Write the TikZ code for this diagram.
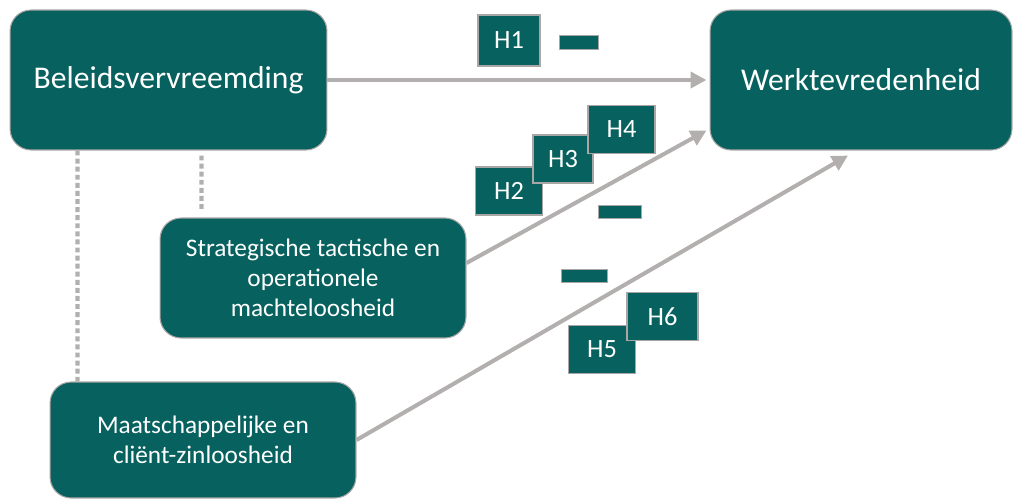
\documentclass[tikz,border=0pt]{standalone}
\usepackage{fontspec}
\setmainfont{Carlito}
\definecolor{mTeal}{HTML}{07615E}
\definecolor{mGrey}{HTML}{B3AFAF}
\definecolor{mEdge}{HTML}{A9A6A6}
\usetikzlibrary{arrows.meta,calc}

\begin{document}
\begin{tikzpicture}[x=0.02cm, y=-0.02cm,
  concept/.style={draw=mEdge, line width=0.6pt, fill=mTeal, text=white, align=center,
    rounded corners=12pt, inner sep=0pt},
  hyp/.style={draw=mEdge, line width=0.7pt, fill=mTeal, text=white, inner sep=0pt,
    font=\fontsize{15}{18}\selectfont, minimum width=1.34cm, minimum height=0.96cm},
  minus/.style={draw=mEdge, line width=0.3pt, fill=mTeal, inner sep=0pt, minimum height=0.27cm},
  link/.style={mGrey, line width=2.3pt, -{Triangle[length=9pt,width=9pt]}},
  dotline/.style={mGrey, line width=2.3pt, dash pattern=on 2.8pt off 1.8pt}]
\useasboundingbox (0,0) rectangle (1014,501);
% concepts
\node[concept, minimum width=6.34cm, minimum height=2.8cm, font=\fontsize{18}{21}\selectfont]
  (beleid) at (168.5,80) {Beleidsvervreemding};
\node[concept, minimum width=6.04cm, minimum height=2.8cm, font=\fontsize{18}{21}\selectfont]
  (werk) at (861,80) {Werktevredenheid};
\node[concept, minimum width=6.12cm, minimum height=2.4cm, font=\fontsize{14.4}{17}\selectfont]
  (strat) at (313,278) {Strategische tactische en\\operationele\\machteloosheid};
\node[concept, minimum width=6.12cm, minimum height=2.32cm, font=\fontsize{14.4}{17}\selectfont]
  (maat) at (203,440) {Maatschappelijke en\\cliënt-zinloosheid};
% dimensions of beleidsvervreemding
\draw[dotline] ($(beleid.south west)+(68,0)$) -- ($(maat.north west)+(28,0)$);
\draw[dotline] ($(beleid.south west)+(192,5)$) -- ($(strat.north west)+(42,-6)$);
% effects on werktevredenheid
\draw[link] (beleid.east) -- ($(werk.west)+(-3,0)$);
\draw[link] ($(strat.east)+(0,-15)$) -- ($(werk.south west)+(-3,-20)$);
\draw[link] (maat.east) -- ($(werk.south)+(-13,5)$);
% hypotheses
\node[hyp, minimum width=1.24cm, minimum height=1.02cm] (h1) at (509,40.5) {H1};
\node[minus, minimum width=0.78cm] (min1) at (578.5,42.5) {};
\node[hyp] (h2) at (509,191) {H2};
\node[hyp, minimum width=1.2cm] (h3) at (563,159) {H3};
\node[hyp] (h4) at (621.5,129.5) {H4};
\node[minus, minimum width=0.86cm] (min2) at (619.5,212) {};
\node[minus, minimum width=0.92cm] (min3) at (584,276) {};
\node[hyp] (h5) at (602,349.5) {H5};
\node[hyp, minimum width=1.42cm] (h6) at (662.5,316.5) {H6};
\end{tikzpicture}
\end{document}
